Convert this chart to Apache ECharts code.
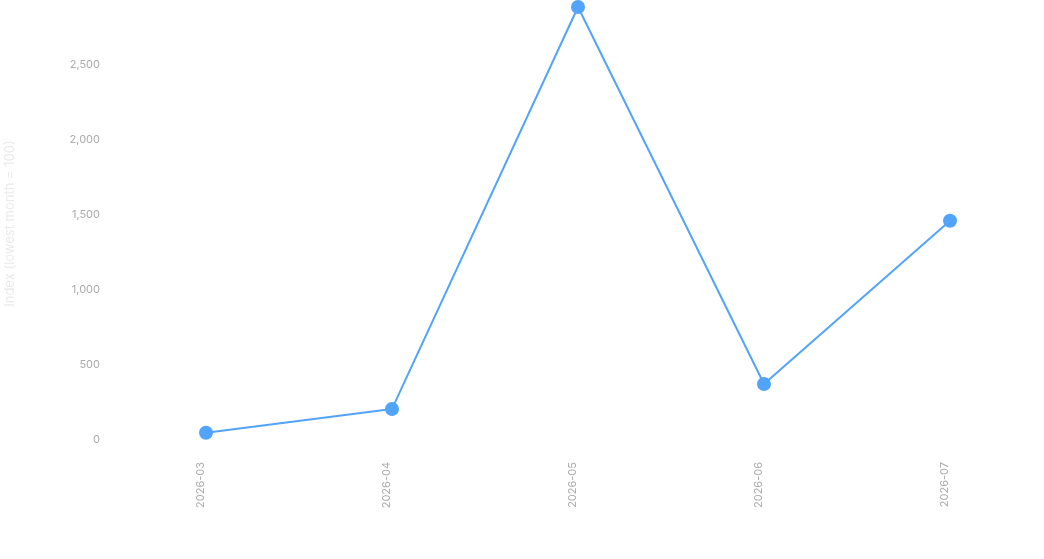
<!DOCTYPE html>
<html>
<head>
    <title>Monthly Index</title>
    <style>
        html, body {
            margin: 0;
            padding: 0;
            background: #ffffff;
        }

        #chart {
            width: 1044px;
            height: 559px;
        }
    </style>
    <script src="https://cdn.jsdelivr.net/npm/echarts@6/dist/echarts.min.js"></script>
</head>
<body>
    <div id="chart"></div>

    <script>
        var months = ['2026-03', '2026-04', '2026-05', '2026-06', '2026-07'];
        var indexValues = [48, 207, 2887, 373, 1462];
        var yTicks = [0, 500, 1000, 1500, 2000, 2500];

        var myChart = echarts.init(document.getElementById('chart'));

        var option = {
            textStyle: {
                fontFamily: 'Inter'
            },
            grid: {
                left: 113,
                right: 1,
                top: 7,
                bottom: 119,
                outerBoundsMode: 'none'
            },
            xAxis: {
                type: 'category',
                data: months,
                axisLine: { show: false },
                axisTick: { show: false },
                axisLabel: {
                    rotate: 90,
                    margin: 22,
                    color: '#aaaaaa',
                    fontSize: 11,
                    verticalAlign: 'bottom',
                    lineHeight: 11
                }
            },
            yAxis: {
                type: 'value',
                min: yTicks[0],
                max: 'dataMax',
                interval: 500,
                name: 'Index (lowest month = 100)',
                nameLocation: 'middle',
                nameGap: 91,
                nameTextStyle: {
                    color: '#eaeaea',
                    fontSize: 13
                },
                splitLine: { show: false },
                axisLine: { show: false },
                axisTick: { show: false },
                axisLabel: {
                    margin: 13,
                    color: '#aaaaaa',
                    fontSize: 11,
                    showMaxLabel: false,
                    formatter: function (v) {
                        return v.toLocaleString('en-US');
                    }
                }
            },
            series: [{
                type: 'line',
                data: indexValues,
                symbol: 'circle',
                symbolSize: 14,
                lineStyle: { width: 2, color: '#52a3fa' },
                itemStyle: { color: '#52a3fa' }
            }]
        };

        myChart.setOption(option);
    </script>
</body>
</html>
